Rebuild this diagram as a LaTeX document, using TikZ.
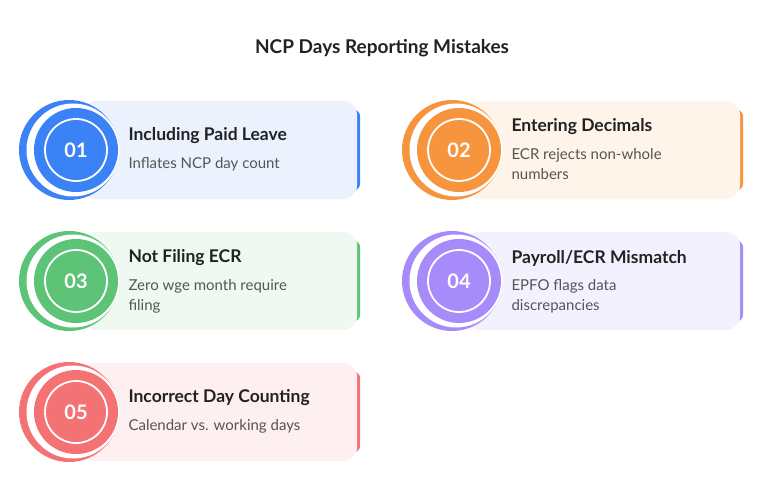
\documentclass[tikz,border=0pt]{standalone}
\usepackage{fontspec}
\setmainfont{Lato}
\definecolor{cb}{HTML}{3B82F6}\definecolor{lb}{HTML}{EBF2FE}
\definecolor{co}{HTML}{F7953E}\definecolor{lo}{HTML}{FEF4EA}
\definecolor{cg}{HTML}{5DC477}\definecolor{lg}{HTML}{EFF9F1}
\definecolor{cp}{HTML}{A78BFA}\definecolor{lp}{HTML}{F4F1FE}
\definecolor{cr}{HTML}{F47174}\definecolor{lr}{HTML}{FEF0F0}
\definecolor{tx}{HTML}{222222}\definecolor{sub}{HTML}{555555}
\tikzset{
 ttl/.style={anchor=west,font=\bfseries\fontsize{17.5}{20}\selectfont,text=tx},
 sb/.style={anchor=north west,font=\fontsize{15}{19.5}\selectfont,text=sub,align=left},
 num/.style={font=\bfseries\fontsize{20}{22}\selectfont,text=white}
}
\newcommand{\card}[8]{% x0 yc main light num title sub nlines
 \fill[#3,rounded corners=6pt] (#1+260,#2-40) rectangle (#1+284,#2+40);
 \fill[#4,rounded corners=14pt] (#1+6,#2-49) rectangle (#1+281,#2+49);
 \fill[#3] (#1-7,#2) circle (50);
 \fill[white] (#1-3,#2) circle (46.5);
 \fill[#3] (#1,#2) circle (42);
 \draw[white,line width=1.8pt] (#1,#2) circle (31);
 \node[num] (n#5) at (#1,#2) {#5};
 \ifnum#8=1
  \node[ttl] (t#5) at (#1+49,#2-14) {#6};
  \node[sb] (s#5) at (#1+49,#2+4) {#7};
 \else
  \node[ttl] (t#5) at (#1+49,#2-23) {#6};
  \node[sb] (s#5) at (#1+49,#2-5) {#7};
 \fi}
\begin{document}
\begin{tikzpicture}[x=1pt,y=-1pt]
\useasboundingbox (0,0) rectangle (765,500);
\node[font=\bfseries\fontsize{19}{22}\selectfont,text=tx] (title) at (382,48) {NCP Days Reporting Mistakes};
\card{76}{150}{cb}{lb}{01}{Including Paid Leave}{Inflates NCP day count}{1}
\card{459}{150}{co}{lo}{02}{Entering Decimals}{ECR rejects non-whole\\numbers}{2}
\card{76}{281}{cg}{lg}{03}{Not Filing ECR}{Zero wge month require\\filing}{2}
\card{459}{281}{cp}{lp}{04}{Payroll/ECR Mismatch}{EPFO flags data\\discrepancies}{2}
\card{76}{412}{cr}{lr}{05}{Incorrect Day Counting}{Calendar vs. working days}{1}
\end{tikzpicture}
\end{document}
